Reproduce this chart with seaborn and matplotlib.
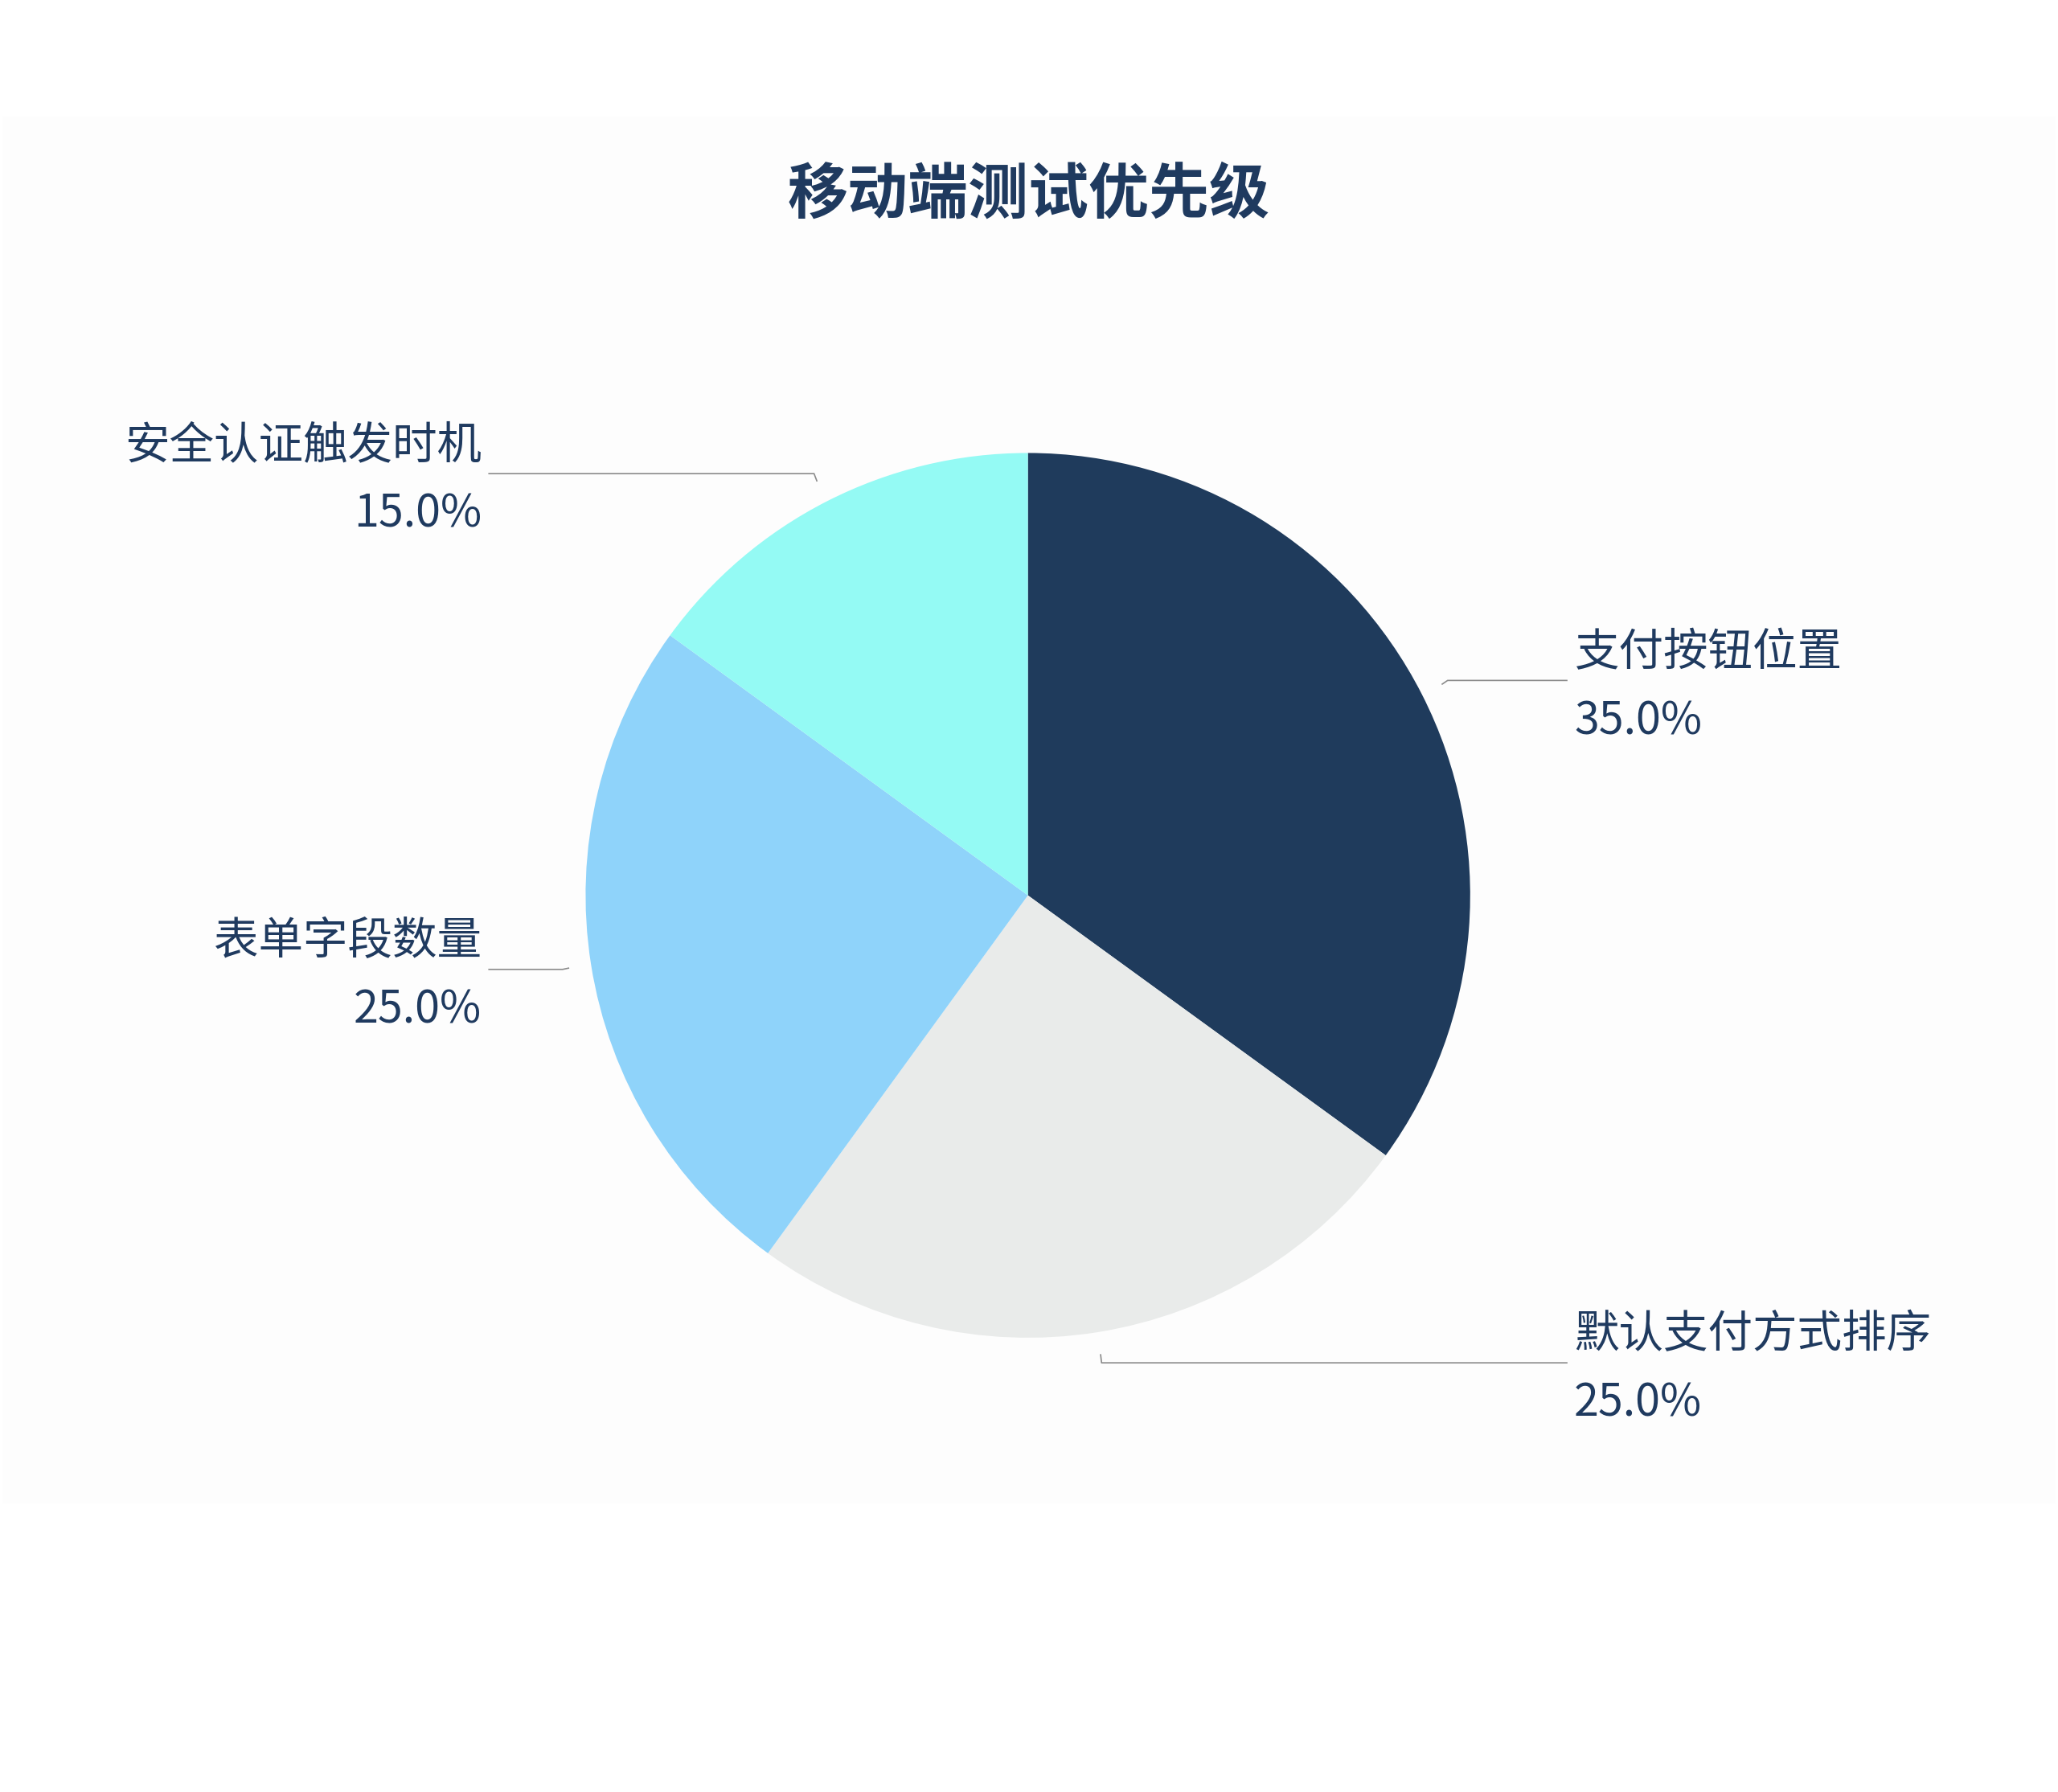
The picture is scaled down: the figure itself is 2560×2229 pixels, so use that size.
import numpy as np
import matplotlib
matplotlib.use("Agg")
import matplotlib.pyplot as plt
import seaborn as sns
from matplotlib.patches import Rectangle

# data
categories = ["支付按钮位置", "默认支付方式排序", "表单字段数量", "安全认证触发时机"]
shares = [35.0, 25.0, 25.0, 15.0]
slice_colors = ["#1F3B5C", "#E9EBEA", "#8FD3FA", "#94FAF4"]
title = "移动端测试优先级"

TEXT = "#1F3A5F"

sns.set_theme(style="white")
plt.rcParams["font.family"] = ["Noto Sans CJK SC", "DejaVu Sans"]

fig = plt.figure(figsize=(12.8, 11.145), dpi=200)
fig.patch.set_facecolor("white")
# faint panel behind the chart
fig.patches.append(Rectangle((0.001, 0.161), 0.998, 0.774, transform=fig.transFigure,
                             facecolor="#FDFDFD", edgecolor="none", zorder=-5))

ax = fig.add_axes([0, 0, 1, 1])
ax.set_zorder(2)
ax.set_facecolor("none")
ax.patch.set_alpha(0)

wedges, _ = ax.pie(shares, colors=slice_colors, startangle=90, counterclock=False,
                   radius=1.0, wedgeprops=dict(linewidth=0))
ax.set_xlim(-2.324, 2.329)
ax.set_ylim(-2.027, 2.024)
ax.set_aspect("auto")
ax.axis("off")

for w, name, val in zip(wedges, categories, shares):
    ang = np.deg2rad((w.theta1 + w.theta2) / 2)
    cx, cy = np.cos(ang), np.sin(ang)
    side = 1 if cx >= 0 else -1
    x0, y0 = 1.05 * cx, 1.05 * cy
    x1, y1 = 1.065 * cx, 1.07 * cy
    x2 = 1.22 * side
    ax.plot([x0, x1, x2], [y0, y1, y1], color="#8A8A8A", lw=0.6,
            solid_capstyle="butt", zorder=3)
    ha = "left" if side > 0 else "right"
    tx = 1.235 * side
    ax.annotate(name, (tx, y1), xytext=(0, 2), textcoords="offset points",
                ha=ha, va="bottom", fontsize=20, color=TEXT)
    ax.annotate(f"{val:.1f}%", (tx, y1), xytext=(0, -8), textcoords="offset points",
                ha=ha, va="top", fontsize=20, color=TEXT)

fig.text(0.5, 0.891, title, ha="center", va="center", fontsize=27,
         fontweight="bold", color=TEXT, zorder=3)

fig.savefig("out.png", dpi=200, facecolor=fig.get_facecolor())
